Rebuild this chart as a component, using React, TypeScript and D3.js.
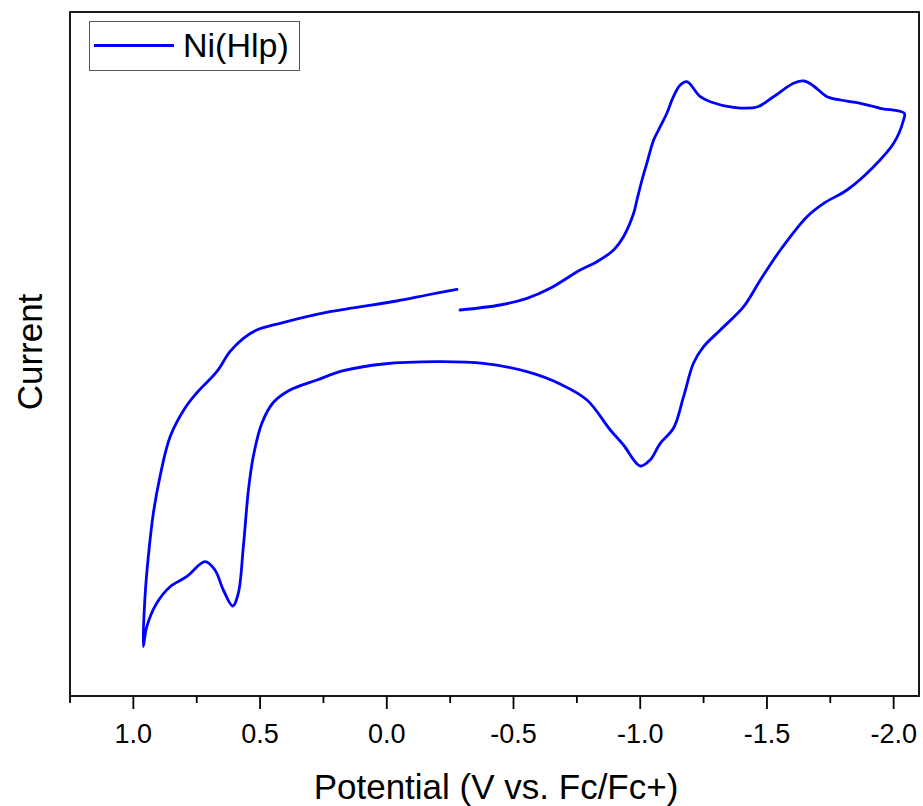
import React from "react";
import * as d3 from "d3";

// Potential (V vs. Fc/Fc+) along the scan, in order
const potential: number[] = [
  -0.277, -0.159, -0.039, 0.224, 0.421, 0.513, 0.566, 0.619, 0.671, 0.75, 0.796, 0.855, 0.895, 0.921, 0.941, 0.954, 0.961,
  0.947, 0.908, 0.855, 0.79, 0.717, 0.678, 0.645, 0.608, 0.586, 0.566, 0.546, 0.527, 0.493, 0.448, 0.382, 0.276, 0.171, 0.013,
  -0.197, -0.381, -0.553, -0.684, -0.79, -0.882, -0.934, -1.0, -1.039, -1.079, -1.131, -1.171, -1.21, -1.25, -1.316, -1.408,
  -1.474, -1.553, -1.658, -1.724, -1.816, -1.921, -2.0, -2.039, -2.042,
  -1.947, -1.856, -1.79, -1.737, -1.684, -1.647, -1.605, -1.526, -1.461, -1.368, -1.276, -1.237, -1.184, -1.158, -1.131,
  -1.105, -1.079, -1.053, -1.026, -1.007, -0.987, -0.974, -0.934, -0.895, -0.829, -0.763, -0.645, -0.553, -0.447, -0.289,
];
// Current (arbitrary units)
const current: number[] = [
  0.727, 0.67, 0.61, 0.503, 0.387, 0.32, 0.237, 0.103, -0.097, -0.31, -0.46, -0.747, -1.147, -1.51, -1.947, -2.347, -2.847,
  -2.647, -2.413, -2.247, -2.147, -1.997, -2.08, -2.28, -2.44, -2.313, -1.847, -1.28, -0.947, -0.613, -0.405, -0.28, -0.18, -0.087, -0.02,
  0.003, -0.013, -0.097, -0.22, -0.38, -0.68, -0.83, -1.04, -0.98, -0.813, -0.663, -0.347, -0.013, 0.153, 0.32, 0.553,
  0.82, 1.12, 1.453, 1.587, 1.72, 1.953, 2.187, 2.42, 2.487,
  2.537, 2.593, 2.62, 2.653, 2.76, 2.81, 2.787, 2.653, 2.55, 2.547, 2.603, 2.653, 2.803, 2.77, 2.653,
  2.487, 2.353, 2.22, 1.987, 1.82, 1.62, 1.487, 1.253, 1.12, 1.003, 0.92, 0.737, 0.637, 0.57, 0.52,
];

const majorTicks: number[] = [1.0, 0.5, 0.0, -0.5, -1.0, -1.5, -2.0];
const tickLabels: string[] = ["1.0", "0.5", "0.0", "-0.5", "-1.0", "-1.5", "-2.0"];
const minorTicks: number[] = [1.25, 0.75, 0.25, -0.25, -0.75, -1.25, -1.75];
const seriesName = "Ni(Hlp)";

const W = 923;
const H = 806;
const L = 70, R = 919, T = 12, B = 696;
const FONT = "Arial, 'Liberation Sans', sans-serif";

export default function App() {
  const x = d3.scaleLinear().domain([1.25, -2.1]).range([L, R]);
  const y = d3.scaleLinear().domain([-3.34, 3.5]).range([B, T]);
  const pts: [number, number][] = potential.map((v, i) => [v, current[i]]);
  const line = d3
    .line<[number, number]>()
    .x((d) => x(d[0]))
    .y((d) => y(d[1]))
    .curve(d3.curveCatmullRom.alpha(0.5));
  const path = line(pts) || "";

  return (
    <div style={{ position: "absolute", left: 0, top: 0 }}>
      <svg width={W} height={H} style={{ display: "block", background: "#fff" }}>
        <path d={path} fill="none" stroke="#0000ff" strokeWidth={2.8} strokeLinejoin="round" strokeLinecap="round" />
        <rect x={L} y={T} width={R - L} height={B - T} fill="none" stroke="#000" strokeWidth={1.8} />
        {majorTicks.map((t, i) => (
          <g key={"M" + i}>
            <line x1={x(t)} x2={x(t)} y1={B} y2={B + 13} stroke="#000" strokeWidth={1.8} />
            <text x={x(t)} y={743} fontSize={27} fontFamily={FONT} textAnchor="middle" fill="#000">
              {tickLabels[i]}
            </text>
          </g>
        ))}
        {minorTicks.map((t, i) => (
          <line key={"m" + i} x1={x(t)} x2={x(t)} y1={B} y2={B + 7} stroke="#000" strokeWidth={1.8} />
        ))}
        <text x={496} y={799} fontSize={35} fontFamily={FONT} textAnchor="middle" fill="#000">
          Potential (V vs. Fc/Fc+)
        </text>
        <text
          transform={`translate(42, 352) rotate(-90)`}
          fontSize={35}
          fontFamily={FONT}
          textAnchor="middle"
          fill="#000"
        >
          Current
        </text>
        <rect x={89.5} y={21.5} width={210} height={49} fill="#fff" stroke="#555" strokeWidth={1} />
        <line x1={94} x2={174} y1={45.5} y2={45.5} stroke="#0000ff" strokeWidth={2.8} />
        <text x={183} y={57} fontSize={34} fontFamily={FONT} fill="#000">
          {seriesName}
        </text>
      </svg>
    </div>
  );
}
